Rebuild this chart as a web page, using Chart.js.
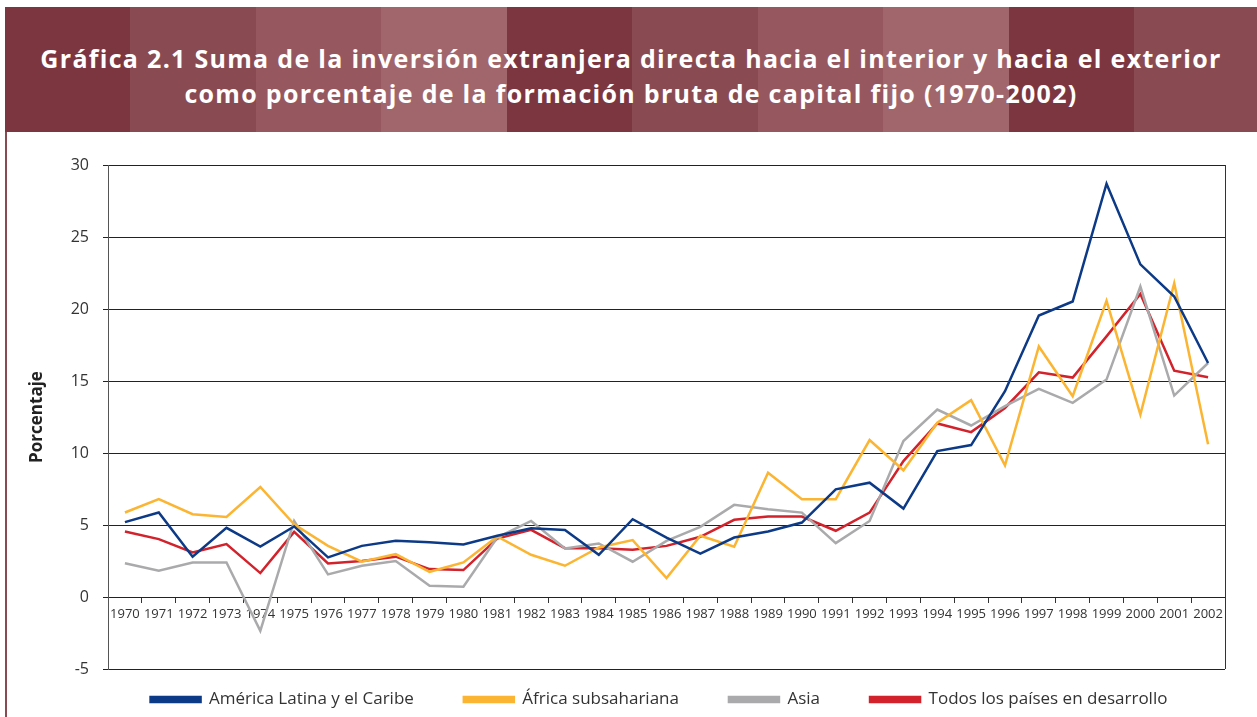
<!DOCTYPE html>
<html lang="es">
<head>
<meta charset="utf-8">
<title>Gráfica 2.1</title>
<script src="https://cdn.jsdelivr.net/npm/chart.js@4.4.1/dist/chart.umd.min.js"></script>
<style>
  html, body { margin: 0; padding: 0; background: #fff; overflow: hidden; }
  body { width: 1257px; height: 717px; position: relative; font-family: "Open Sans", sans-serif; }
  .cabecera {
    position: absolute; left: 5px; top: 7px; width: 1252px; height: 125px;
    background: repeating-linear-gradient(90deg,
      #7c3640 0px, #7c3640 125.5px,
      #8a4a51 125.5px, #8a4a51 251px,
      #96575f 251px, #96575f 376.5px,
      #a1666c 376.5px, #a1666c 502px);
    color: #fff; font-weight: bold; font-size: 25px; letter-spacing: 1.3px; line-height: 35px;
    text-align: center; box-sizing: border-box; padding-top: 34px;
  }
  .borde { position: absolute; left: 5px; top: 132px; width: 2px; height: 585px; background: #8a4a51; z-index: 2; }
  .grafico { position: absolute; left: 0; top: 132px; width: 1257px; height: 585px; }
</style>
</head>
<body>
<div class="cabecera">Gráfica 2.1 Suma de la inversión extranjera directa hacia el interior y hacia el exterior<br>como porcentaje de la formación bruta de capital fijo (1970-2002)</div>
<div class="borde"></div>
<div class="grafico"><canvas id="grafica"></canvas></div>
<script>
// datos
const anios = ["1970", "1971", "1972", "1973", "1974", "1975", "1976", "1977", "1978", "1979", "1980",
  "1981", "1982", "1983", "1984", "1985", "1986", "1987", "1988", "1989", "1990", "1991",
  "1992", "1993", "1994", "1995", "1996", "1997", "1998", "1999", "2000", "2001", "2002"];

const americaLatina = [5.2, 5.87, 2.8, 4.8, 3.5, 4.9, 2.75, 3.55, 3.9, 3.8, 3.65, 4.25,
  4.78, 4.66, 2.93, 5.4, 4.13, 3.02, 4.13, 4.55, 5.17, 7.48, 7.94, 6.14,
  10.13, 10.55, 14.29, 19.55, 20.52, 28.7, 23.1, 20.87, 16.25];

const africa = [5.87, 6.8, 5.75, 5.56, 7.64, 5.05, 3.55, 2.45, 2.98, 1.75, 2.4, 4.2,
  2.93, 2.17, 3.44, 3.95, 1.32, 4.25, 3.49, 8.63, 6.79, 6.79, 10.9, 8.8,
  12.1, 13.67, 9.14, 17.4, 13.94, 20.57, 12.67, 21.79, 10.6];

const asia = [2.35, 1.82, 2.4, 2.4, -2.35, 5.28, 1.57, 2.17, 2.5, 0.78, 0.71, 4.13,
  5.28, 3.37, 3.72, 2.45, 3.9, 4.87, 6.4, 6.1, 5.86, 3.74, 5.28, 10.83,
  13.02, 11.91, 13.25, 14.45, 13.48, 15.1, 21.56, 13.99, 16.25];

const todos = [4.55, 4.02, 3.09, 3.67, 1.66, 4.52, 2.33, 2.5, 2.8, 1.94, 1.87, 4.06,
  4.66, 3.39, 3.39, 3.28, 3.55, 4.18, 5.36, 5.59, 5.59, 4.6, 5.86, 9.44,
  12.05, 11.45, 13.13, 15.6, 15.24, 18.1, 21.05, 15.72, 15.26];

const yMin = -5, yMax = 30, yPaso = 5;

function serie(nombre, datos, color) {
  return {
    label: nombre,
    data: datos,
    borderColor: color,
    backgroundColor: color,
    borderWidth: 2.5,
    pointRadius: 0,
    tension: 0,
  };
}

// marco derecho del area de la grafica
const marco = {
  id: "marco",
  afterDraw(chart) {
    const { ctx, chartArea } = chart;
    ctx.save();
    ctx.strokeStyle = "#333";
    ctx.lineWidth = 1;
    ctx.beginPath();
    ctx.moveTo(chartArea.right + 0.5, chartArea.top);
    ctx.lineTo(chartArea.right + 0.5, chartArea.bottom);
    ctx.stroke();
    ctx.restore();
  },
};

// sube la leyenda para que quede justo debajo del eje y la corre a la derecha
const moverLeyenda = {
  id: "moverLeyenda",
  afterLayout(chart) {
    if (chart.legend) {
      chart.legend.top -= 28;
      chart.legend.left += 93;
    }
  },
};

const ctx = document.getElementById("grafica").getContext("2d");
new Chart(ctx, {
  type: "line",
  data: {
    labels: anios,
    datasets: [
      serie("América Latina y el Caribe", americaLatina, "#0d3a86"),
      serie("África subsahariana", africa, "#fbb532"),
      serie("Asia", asia, "#aaaaac"),
      serie("Todos los países en desarrollo", todos, "#d2222b"),
    ],
  },
  options: {
    responsive: true,
    maintainAspectRatio: false,
    animation: false,
    layout: { padding: { top: 33, right: 32, left: 0, bottom: 0 } },
    plugins: {
      tooltip: { enabled: false },
      legend: {
        position: "bottom",
        maxHeight: 48,
        labels: {
          boxWidth: 50,
          boxHeight: 5,
          padding: 50,
          color: "#333",
          font: { family: "Open Sans", size: 17 },
        },
      },
    },
    scales: {
      x: {
        position: { y: 0 },
        offset: true,
        grid: {
          offset: true,
          drawOnChartArea: false,
          drawTicks: true,
          tickLength: 5,
          color: "#333",
        },
        border: { display: true, color: "#222" },
        ticks: {
          autoSkip: false,
          maxRotation: 0,
          minRotation: 0,
          padding: 4,
          color: "#333",
          font: { family: "Open Sans", size: 13 },
        },
      },
      y: {
        min: yMin,
        max: yMax,
        afterFit(scale) { scale.width = 108; },
        grid: { color: "#222", lineWidth: 1, tickLength: 5 },
        border: { color: "#555" },
        ticks: {
          stepSize: yPaso,
          padding: 14,
          color: "#333",
          font: { family: "Open Sans", size: 16 },
        },
        title: {
          display: true,
          text: "Porcentaje",
          color: "#222",
          padding: { top: 27 },
          font: { family: "Open Sans", size: 17, weight: "bold" },
        },
      },
    },
  },
  plugins: [marco, moverLeyenda],
});
</script>
</body>
</html>
